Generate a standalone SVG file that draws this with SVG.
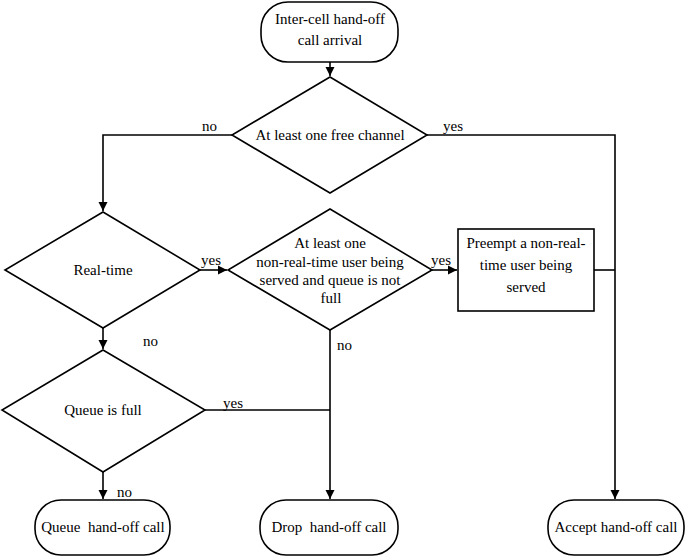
<svg xmlns="http://www.w3.org/2000/svg" width="685" height="556" viewBox="0 0 685 556" font-family="'Liberation Serif', 'Times New Roman', Times, 'DejaVu Serif', serif">
<defs>
<marker id="arr" markerWidth="10" markerHeight="10" refX="9" refY="5" orient="auto" markerUnits="userSpaceOnUse">
<path d="M0,0.5 L9,5 L0,9.5 Z" fill="#000"/>
</marker>
<style>
.s{fill:#fff;stroke:#000;stroke-width:1.6}
.c{fill:none;stroke:#000;stroke-width:1.6}
text{font-family:'Liberation Serif','Times New Roman',Times,'DejaVu Serif',serif;font-size:15px;fill:#000;text-anchor:middle;dominant-baseline:central}
.l{text-anchor:start}
</style>
</defs>
<rect width="685" height="556" fill="#fff"/>
<g id="connectors">
<path class="c" d="M330,62 V76" marker-end="url(#arr)"/>
<path class="c" d="M232,135 H103 V211" marker-end="url(#arr)"/>
<path class="c" d="M427,135 H615 V499" marker-end="url(#arr)"/>
<path class="c" d="M200,270 H227" marker-end="url(#arr)"/>
<path class="c" d="M432,270 H457" marker-end="url(#arr)"/>
<path class="c" d="M594,270 H615"/>
<path class="c" d="M330,330 V499" marker-end="url(#arr)"/>
<path class="c" d="M205,410 H330"/>
<path class="c" d="M103,328 V349" marker-end="url(#arr)"/>
<path class="c" d="M103,472 V499" marker-end="url(#arr)"/>
<text class="l" x="202" y="126">no</text>
<text class="l" x="443" y="126">yes</text>
<text class="l" x="201" y="260">yes</text>
<text class="l" x="431" y="260">yes</text>
<text class="l" x="337" y="345">no</text>
<text class="l" x="143" y="341">no</text>
<text class="l" x="223" y="403">yes</text>
<text class="l" x="117" y="492">no</text>
</g>
<g id="start">
<rect class="s" x="261" y="2" width="137" height="60" rx="27"/>
<text x="330" y="19">Inter-cell hand-off</text>
<text x="330" y="40">call arrival</text>
</g>
<g id="free-channel">
<polygon class="s" points="330,77 427,135 330,193 232,135"/>
<text x="330" y="135">At least one free channel</text>
</g>
<g id="real-time">
<polygon class="s" points="103,212 200,270 103,328 5,270"/>
<text x="103" y="270">Real-time</text>
</g>
<g id="nonrt-check">
<polygon class="s" points="330,209 432,270 330,330 228,270"/>
<text x="330" y="243">At least one</text>
<text x="330" y="262">non-real-time user being</text>
<text x="330" y="280">served and queue is not</text>
<text x="331" y="298">full</text>
</g>
<g id="preempt">
<rect class="s" x="458" y="229" width="136" height="82"/>
<text x="526" y="243">Preempt a non-real-</text>
<text x="526" y="265">time user being</text>
<text x="526" y="287">served</text>
</g>
<g id="queue-full">
<polygon class="s" points="103,350 205,410 103,472 2,410"/>
<text x="103" y="410">Queue is full</text>
</g>
<g id="queue-call">
<rect class="s" x="35" y="500" width="135" height="55" rx="26"/>
<text x="103" y="527" xml:space="preserve">Queue  hand-off call</text>
</g>
<g id="drop-call">
<rect class="s" x="260" y="500" width="138" height="55" rx="26"/>
<text x="329" y="527" xml:space="preserve">Drop  hand-off call</text>
</g>
<g id="accept-call">
<rect class="s" x="548" y="500" width="136" height="55" rx="26"/>
<text x="616" y="527">Accept hand-off call</text>
</g>
</svg>
